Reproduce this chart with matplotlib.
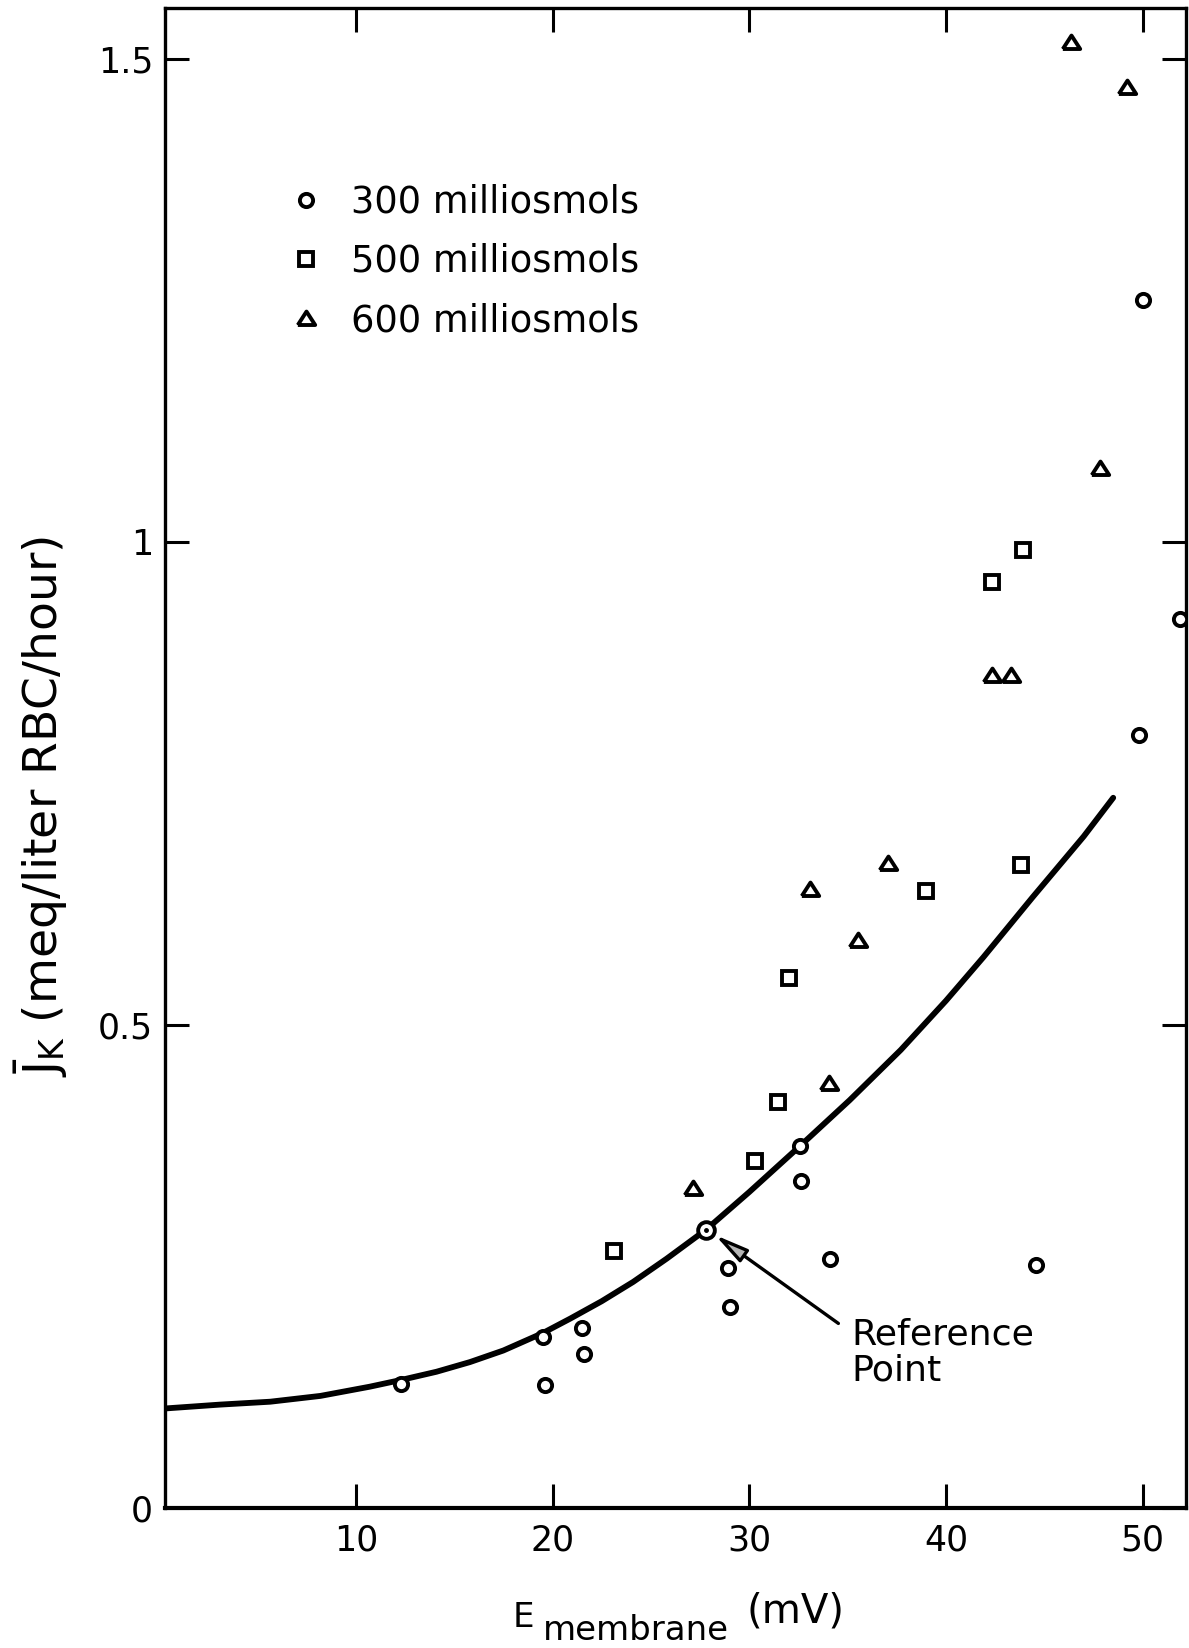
import matplotlib
matplotlib.use("Agg")
import matplotlib.pyplot as plt

plt.rcParams['font.family'] = ['DejaVu Sans']
plt.rcParams['mathtext.fontset'] = 'dejavusans'

# potassium flux vs membrane potential, three tonicities
x_300 = [12.3, 19.5, 19.6, 21.5, 21.6, 28.9, 29.0, 32.6, 32.65, 34.1, 44.6, 50.0, 49.8, 51.9]
y_300 = [0.128, 0.177, 0.127, 0.186, 0.159, 0.248, 0.208, 0.375, 0.338, 0.258, 0.251, 1.25, 0.80, 0.92]

x_500 = [23.1, 30.3, 31.45, 32.0, 39.0, 43.8, 42.35, 43.9]
y_500 = [0.266, 0.359, 0.420, 0.548, 0.638, 0.665, 0.958, 0.991]

x_600 = [27.15, 34.05, 33.1, 35.55, 37.05, 42.35, 43.3, 47.85, 46.35, 49.2]
y_600 = [0.331, 0.440, 0.641, 0.588, 0.667, 0.862, 0.862, 1.076, 1.517, 1.471]

# reference point (300 milliosmols)
ref_x = [27.8]
ref_y = [0.288]

# hand-fitted curve
curve_x = [0.3, 3.1, 5.65, 8.2, 10.7, 12.3, 14.1, 15.8, 17.5, 19.5, 20.9, 22.5,
           24.1, 25.8, 27.8, 30.0, 32.6, 35.1, 37.7, 40.0, 41.9, 44.4, 47.0, 48.5]
curve_y = [0.103, 0.107, 0.110, 0.116, 0.1255, 0.1325, 0.141, 0.151, 0.163, 0.181, 0.196, 0.214,
           0.234, 0.258, 0.288, 0.327, 0.375, 0.422, 0.474, 0.525, 0.570, 0.632, 0.695, 0.735]

labels = ['300 milliosmols', '500 milliosmols', '600 milliosmols']
xticks = [10, 20, 30, 40, 50]
yticks = [0, 0.5, 1, 1.5]
ytick_labels = ['0', '0.5', '1', '1.5']

# wide, flat triangle like the hand-lettered symbol
tri = [(-1, -0.75), (1, -0.75), (0, 0.8), (-1, -0.75)]

W, H = 1189, 1648
fig = plt.figure(figsize=(W / 100, H / 100), dpi=100)
ax = fig.add_axes([165 / W, 140 / H, 1021 / W, 1499.7 / H])

ax.plot(curve_x, curve_y, color='black', lw=4.2, solid_capstyle='round',
        solid_joinstyle='round', zorder=2)

mk = dict(linestyle='none', mfc='white', mec='black', mew=2.8, zorder=3)
h1, = ax.plot(x_300, y_300, marker='o', ms=9.5, **mk)
h2, = ax.plot(x_500, y_500, marker='s', ms=10.4, **mk)
h3, = ax.plot(x_600, y_600, marker=tri, ms=12.5, **mk)
ax.plot(ref_x, ref_y, marker='o', ms=12, **mk)
ax.plot(ref_x, ref_y, marker='o', ms=2.5, linestyle='none', color='black', zorder=4)

ax.annotate('', xy=(28.26, 0.2825), xytext=(34.53, 0.191),
            arrowprops=dict(arrowstyle='-|>,head_length=2.0,head_width=0.45',
                            lw=2.4, fc='#b5b5b5', ec='black', shrinkA=0, shrinkB=0))
ax.text(35.2, 0.1976, 'Reference\nPoint', fontsize=26.2, ha='left', va='top', linespacing=1.08)

ax.legend([h1, h2, h3], labels, loc='upper left', bbox_to_anchor=(0.121, 0.8829),
          frameon=False, fontsize=26.5, handlelength=0.93, handletextpad=0.77,
          labelspacing=0.6, borderpad=0, borderaxespad=0, numpoints=1)

ax.set_xlim(0.3, 52.2)
ax.set_ylim(0, 1.552)
ax.set_xticks(xticks)
ax.set_xticklabels([str(t) for t in xticks])
ax.set_yticks(yticks)
ax.set_yticklabels(ytick_labels)
ax.tick_params(axis='both', direction='in', length=17, width=2.2, top=True, right=True,
               labelsize=25)
ax.tick_params(axis='x', pad=11.5)
ax.tick_params(axis='y', pad=8.6)
for s in ax.spines.values():
    s.set_linewidth(2.4)
ax.spines['bottom'].set_linewidth(3.0)

# axis titles, subscript kept at full size
fig.text(41 / W, 1 - 806 / H, r'$\bar{\mathregular{J}}_{\mathregular{K}}$ (meq/liter RBC/hour)',
         rotation=90, ha='center', va='center', fontsize=34)
fig.text(513 / W, 1 - 1627 / H, 'E', fontsize=24.5, ha='left', va='baseline')
fig.text(543 / W, 1 - 1640 / H, 'membrane', fontsize=24.5, ha='left', va='baseline')
fig.text(747 / W, 1 - 1623 / H, '(mV)', fontsize=29, ha='left', va='baseline')

fig.savefig('out.png', dpi=100)
